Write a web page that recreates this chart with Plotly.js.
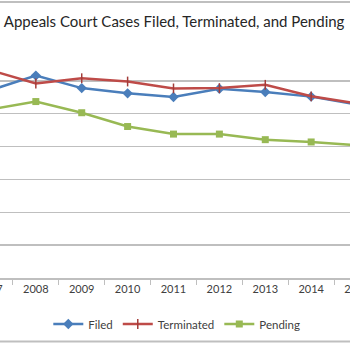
<!DOCTYPE html>
<html>
<head>
<meta charset="utf-8">
<script src="https://cdn.plot.ly/plotly-3.0.1.min.js"></script>
<style>
  html, body { margin: 0; padding: 0; width: 350px; height: 350px; overflow: hidden; background: #fff; }
  #chart { position: absolute; left: -50px; top: 0; width: 450px; height: 350px; }
</style>
</head>
<body>
<div id="chart"></div>
<script>
const years = ['2007', '2008', '2009', '2010', '2011', '2012', '2013', '2014', '2015'];
const filed = [57100, 61600, 57800, 56200, 55100, 57600, 56600, 55200, 52800];
const terminated = [63300, 59200, 60800, 59800, 57700, 57800, 58800, 55300, 53100];
const pending = [51300, 53700, 50300, 46100, 43800, 43800, 42100, 41400, 40400];

const font = 'Lato, "Open Sans", sans-serif';

const traces = [
  { x: years, y: filed, name: 'Filed', type: 'scatter', mode: 'lines+markers',
    line: { color: '#4a7ebb', width: 2.5 },
    marker: { symbol: 'diamond', size: 8, color: '#4a7ebb' } },
  { x: years, y: terminated, name: 'Terminated', type: 'scatter', mode: 'lines+markers',
    line: { color: '#be4b48', width: 2.5 },
    marker: { symbol: 'line-ns', size: 7, color: '#a33c39', line: { color: '#a33c39', width: 1.5 } } },
  { x: years, y: pending, name: 'Pending', type: 'scatter', mode: 'lines+markers',
    line: { color: '#98b954', width: 2.5 },
    marker: { symbol: 'square', size: 7, color: '#98b954' } }
];

const layout = {
  width: 450, height: 350,
  margin: { l: 17, r: 20, t: 48, b: 67, pad: 0 },
  paper_bgcolor: '#fff', plot_bgcolor: '#fff',
  font: { family: font, color: '#404040', size: 11 },
  title: { text: 'Appeals Court Cases Filed, Terminated, and Pending',
    font: { family: font, size: 15, color: '#262626' },
    xref: 'container', x: 0.498, xanchor: 'center',
    yref: 'container', y: 0.938, yanchor: 'middle' },
  xaxis: { type: 'category', range: [-0.5, 8.5], tickson: 'boundaries',
    ticks: 'outside', ticklen: 5, tickcolor: '#bfbfbf', tickwidth: 1,
    showline: true, linecolor: '#bfbfbf', linewidth: 1.5,
    showgrid: false, zeroline: false, fixedrange: true,
    tickfont: { family: font, size: 11, color: '#404040' } },
  yaxis: { range: [0, 70000], dtick: 10000, tick0: 0,
    showticklabels: false, showgrid: true, gridcolor: '#bfbfbf', gridwidth: 1.3,
    zeroline: false, showline: false, ticks: '', fixedrange: true },
  showlegend: true,
  legend: { orientation: 'h', x: 0.508, xanchor: 'center', y: -0.2, yanchor: 'middle',
    font: { family: font, size: 11.5, color: '#404040' }, itemwidth: 30,
    bgcolor: 'rgba(0,0,0,0)' },
  shapes: [
    { type: 'line', xref: 'paper', yref: 'paper', x0: -0.2, x1: 1.2, y0: 1.2, y1: 1.2,
      line: { color: '#bfbfbf', width: 2 } },
    { type: 'line', xref: 'paper', yref: 'paper', x0: -0.2, x1: 1.2, y0: -0.2766, y1: -0.2766,
      line: { color: '#bfbfbf', width: 2 } }
  ]
};

Plotly.newPlot('chart', traces, layout, { displayModeBar: false, staticPlot: true });
</script>
</body>
</html>
